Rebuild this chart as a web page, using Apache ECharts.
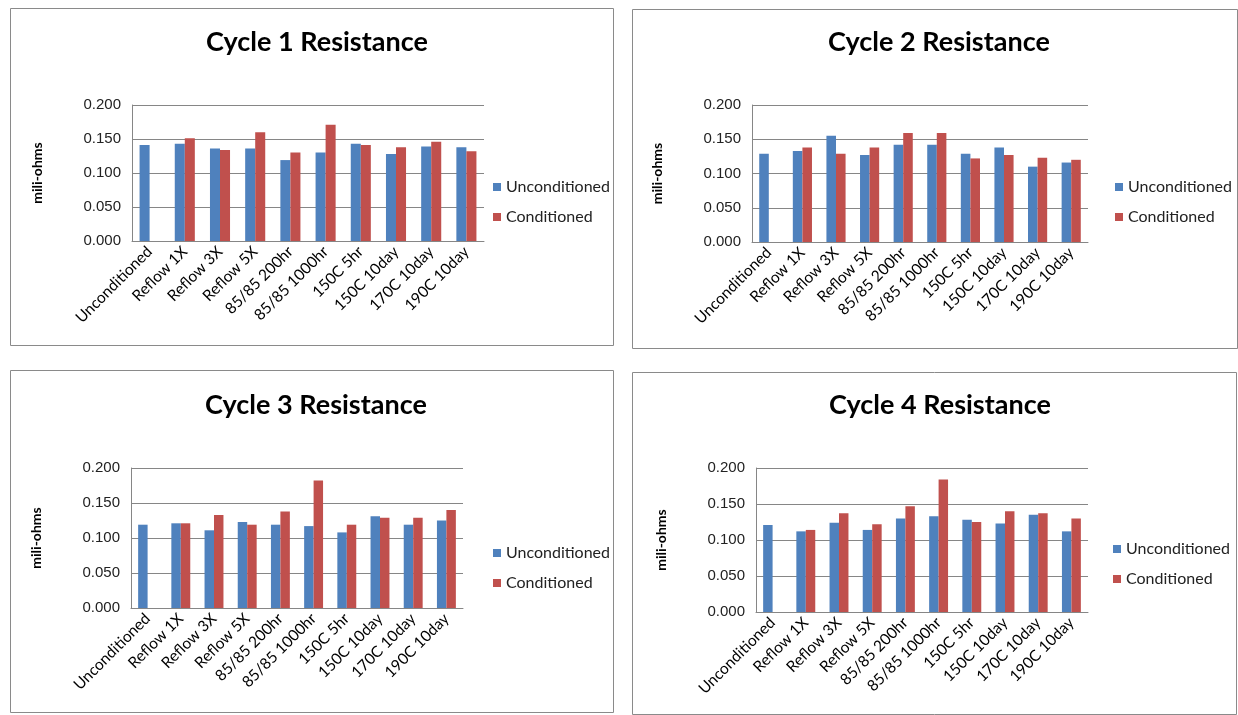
<!DOCTYPE html>
<html>
<head>
<meta charset="utf-8">
<script src="https://cdn.jsdelivr.net/npm/echarts@6/dist/echarts.min.js"></script>
<style>
  html, body { margin: 0; padding: 0; background: #fff; }
  #chart { width: 1238px; height: 715px; }
</style>
</head>
<body>
<div id="chart"></div>
<script>
// Test conditions along the category axis
const categories = ['Unconditioned', 'Reflow 1X', 'Reflow 3X', 'Reflow 5X', '85/85 200hr',
  '85/85 1000hr', '150C 5hr', '150C 10day', '170C 10day', '190C 10day'];

const yTicks = [0, 0.05, 0.1, 0.15, 0.2];

// Resistance (mili-ohms) per cycle
const cycle1Unconditioned = [0.141, 0.143, 0.136, 0.136, 0.119, 0.130, 0.143, 0.128, 0.139, 0.138];
const cycle1Conditioned   = [null,  0.151, 0.134, 0.160, 0.130, 0.171, 0.141, 0.138, 0.146, 0.132];

const cycle2Unconditioned = [0.129, 0.133, 0.155, 0.127, 0.142, 0.142, 0.129, 0.138, 0.110, 0.116];
const cycle2Conditioned   = [null,  0.138, 0.129, 0.138, 0.159, 0.159, 0.122, 0.127, 0.123, 0.120];

const cycle3Unconditioned = [0.119, 0.121, 0.111, 0.123, 0.119, 0.117, 0.108, 0.131, 0.119, 0.125];
const cycle3Conditioned   = [null,  0.121, 0.133, 0.119, 0.138, 0.182, 0.119, 0.129, 0.129, 0.140];

const cycle4Unconditioned = [0.121, 0.112, 0.124, 0.114, 0.130, 0.133, 0.128, 0.123, 0.135, 0.112];
const cycle4Conditioned   = [null,  0.114, 0.137, 0.122, 0.147, 0.184, 0.125, 0.140, 0.137, 0.130];

const titles = ['Cycle 1 Resistance', 'Cycle 2 Resistance', 'Cycle 3 Resistance', 'Cycle 4 Resistance'];
const seriesNames = ['Unconditioned', 'Conditioned'];
const colors = ['#4F81BD', '#C0504D'];

const panels = [
  { box: [10, 8, 603, 337],  grid: [132, 105, 352, 136], title: [312, 24],  legend: [488, 174], u: cycle1Unconditioned, c: cycle1Conditioned },
  { box: [632, 9, 605, 339], grid: [752, 105, 336, 137], title: [934, 24],  legend: [1110, 174], u: cycle2Unconditioned, c: cycle2Conditioned },
  { box: [10, 370, 603, 342], grid: [131, 468, 332, 140], title: [311, 387], legend: [488, 540], u: cycle3Unconditioned, c: cycle3Conditioned },
  { box: [632, 372, 604, 342], grid: [756, 468, 332, 144], title: [935, 387], legend: [1108, 536], u: cycle4Unconditioned, c: cycle4Conditioned }
];

const labelFont = 'Lato, "Open Sans", sans-serif';
const tickFont = '"Liberation Sans", Arial, sans-serif';

const option = {
  animation: false,
  backgroundColor: '#fff',
  color: colors,
  graphic: panels.map(p => ({
    type: 'rect',
    shape: { x: p.box[0] + 0.5, y: p.box[1] + 0.5, width: p.box[2], height: p.box[3] },
    style: { fill: 'none', stroke: '#8a8a8a', lineWidth: 1 },
    z: -1
  })),
  title: panels.map((p, i) => ({
    text: titles[i],
    left: p.title[0],
    top: p.title[1],
    textAlign: 'center',
    textStyle: { fontFamily: labelFont, fontWeight: 'bold', fontSize: 27, color: '#000' }
  })),
  legend: panels.map((p, i) => ({
    data: seriesNames,
    orient: 'vertical',
    left: p.legend[0],
    top: p.legend[1],
    itemWidth: 8,
    itemHeight: 8,
    itemGap: 14,
    icon: 'rect',
    textStyle: { fontFamily: labelFont, fontSize: 16, color: '#222' },
    selectedMode: false
  })),
  grid: panels.map(p => ({
    left: p.grid[0], top: p.grid[1], width: p.grid[2], height: p.grid[3],
    containLabel: false
  })),
  xAxis: panels.map((p, i) => ({
    type: 'category',
    gridIndex: i,
    data: categories,
    axisLine: { lineStyle: { color: '#868686' } },
    axisTick: { show: false },
    axisLabel: {
      interval: 0,
      rotate: 45,
      margin: 8,
      fontFamily: labelFont,
      fontSize: 15.5,
      color: '#000'
    }
  })),
  yAxis: panels.map((p, i) => ({
    type: 'value',
    gridIndex: i,
    min: yTicks[0],
    max: yTicks[yTicks.length - 1],
    interval: yTicks[1] - yTicks[0],
    name: 'mili-ohms',
    nameLocation: 'middle',
    nameRotate: 90,
    nameGap: 88,
    nameTextStyle: { fontFamily: labelFont, fontWeight: 'bold', fontSize: 14, color: '#000' },
    axisLine: { show: true, lineStyle: { color: '#868686' } },
    axisTick: { show: false },
    splitLine: { show: true, lineStyle: { color: '#868686', width: 1 } },
    axisLabel: {
      margin: 11,
      fontFamily: tickFont,
      fontSize: 15,
      color: '#222',
      formatter: v => v.toFixed(3)
    }
  })),
  series: panels.flatMap((p, i) => [
    {
      name: seriesNames[0], type: 'bar', xAxisIndex: i, yAxisIndex: i,
      data: p.u, barGap: '0%', barCategoryGap: '43%',
      itemStyle: { color: colors[0] }
    },
    {
      name: seriesNames[1], type: 'bar', xAxisIndex: i, yAxisIndex: i,
      data: p.c, barGap: '0%', barCategoryGap: '43%',
      itemStyle: { color: colors[1] }
    }
  ])
};

const chart = echarts.init(document.getElementById('chart'), null, { renderer: 'canvas' });
chart.setOption(option);
</script>
</body>
</html>
